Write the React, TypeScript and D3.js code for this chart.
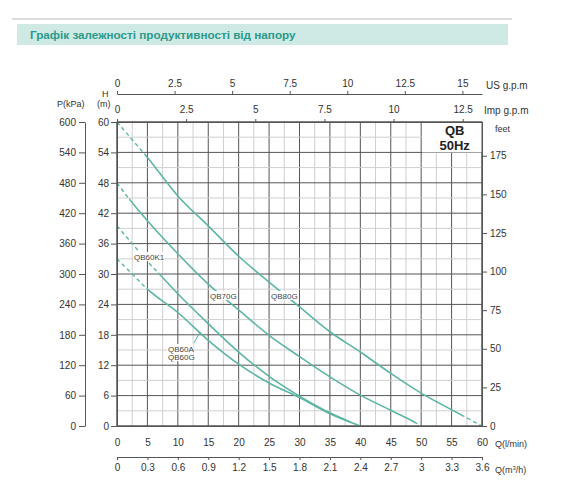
import { useRef, useEffect } from 'react'
import * as d3 from 'd3'

// Head (m) (l/min)
const qb80gFlow = [0, 2.5, 5, 10, 15, 20, 25, 30, 35, 40, 45, 50, 55, 57.5, 60]
const qb80gHead = [60, 56.5, 53, 45.4, 39.5, 33.5, 28.4, 23.5, 18.6, 14.6, 10.4, 6.5, 3.2, 1.6, 0]
const qb70gFlow = [0, 2, 5, 10, 15, 20, 25, 30, 35, 40, 45, 49, 50]
const qb70gHead = [48, 44.8, 40.5, 34, 28, 22.9, 17.9, 13.7, 9.7, 6.1, 3.1, 0.7, 0]
const qb60k1Flow = [0, 2.5, 5, 7.5, 10, 15, 20, 25, 30, 35, 38.5]
const qb60k1Head = [39.5, 36, 32.5, 29.3, 26.1, 20.2, 14.6, 9.8, 5.9, 2.6, 0.7]
const qb60aFlow = [0, 2.5, 5, 10, 15, 20, 25, 30, 35, 40]
const qb60aHead = [33, 30, 27, 22.4, 16.9, 12.2, 8.5, 5.6, 2.4, 0]

// solid part of each curve (flow range), the rest is dashed
const solidRanges: [number, number][] = [[4.6, 57], [2, 49], [6.8, 38.5], [4.9, 40]]

// tick labels
const flowTicks = d3.range(0, 61, 5)
const m3hTicks = [0, 0.3, 0.6, 0.9, 1.2, 1.5, 1.8, 2.1, 2.4, 2.7, 3, 3.3, 3.6]
const headTicks = d3.range(0, 61, 6)
const kpaTicks = d3.range(0, 601, 60)
const feetTicks = [0, 25, 50, 75, 100, 125, 150, 175]
const usTicks = [0, 2.5, 5, 7.5, 10, 12.5, 15]
const impTicks = [0, 2.5, 5, 7.5, 10, 12.5]
const gridFlow = d3.range(0, 60.1, 2.5)
const gridHead = d3.range(0, 60.1, 3)

const FONT = '"Liberation Sans", Arial, sans-serif'
const TEAL = '#5db5a6'

const L = 117, R = 482, T = 122, B = 426
const x = d3.scaleLinear().domain([0, 60]).range([L, R])
const y = d3.scaleLinear().domain([0, 60]).range([B, T])
const yKpa = d3.scaleLinear().domain([0, 600]).range([B, T])
const yFeet = d3.scaleLinear().domain([0, 60 / 0.3048]).range([B, T])
const xUs = d3.scaleLinear().domain([0, 60 / 3.785]).range([L, R])
const xImp = d3.scaleLinear().domain([0, 60 / 4.546]).range([L, R])
const xM3h = d3.scaleLinear().domain([0, 3.6]).range([L, R])

const series = [
  { flow: qb80gFlow, head: qb80gHead },
  { flow: qb70gFlow, head: qb70gHead },
  { flow: qb60k1Flow, head: qb60k1Head },
  { flow: qb60aFlow, head: qb60aHead },
]

const labels = [
  { text: 'QB80G', x: 271, y: 299 },
  { text: 'QB70G', x: 210, y: 299 },
  { text: 'QB60K1', x: 134, y: 260 },
  { text: 'QB60A', x: 168, y: 352 },
  { text: 'QB60G', x: 168, y: 360 },
]

const titles = [
  { text: 'US  g.p.m', x: 486, y: 89, size: 10 },
  { text: 'Imp  g.p.m', x: 484, y: 114, size: 10 },
  { text: 'feet', x: 495, y: 132, size: 9 },
  { text: 'P(kPa)', x: 57, y: 107, size: 9 },
  { text: 'H', x: 102, y: 97, size: 9 },
  { text: '(m)', x: 97, y: 107, size: 9 },
  { text: 'Q(l/min)', x: 495, y: 447, size: 9 },
]

export default function App() {
  const axesRef = useRef<SVGGElement>(null)

  const line = d3.line<[number, number]>()
    .x(d => x(d[0]))
    .y(d => y(d[1]))
    .curve(d3.curveMonotoneX)

  // pointer from QB60A label to its curve
  const pq = 13.6
  const ph = d3.scaleLinear().domain(qb60aFlow).range(qb60aHead)(pq)

  useEffect(() => {
    if (!axesRef.current) return
    const g = d3.select(axesRef.current)
    g.selectAll('*').remove()

    const styleAxis = (a: d3.Selection<SVGGElement, unknown, null, undefined>) => {
      a.selectAll('.domain').attr('stroke', '#555')
      a.selectAll('.tick line').attr('stroke', '#555')
      a.selectAll('text').attr('fill', '#333').attr('font-family', FONT).attr('font-size', '10px')
    }
    const plain = (d: d3.NumberValue) => String(d)

    // H (m)
    g.append('g')
      .attr('transform', `translate(${L},0)`)
      .call(d3.axisLeft(y).tickValues(headTicks).tickSize(6).tickSizeOuter(0).tickPadding(2))
      .call(styleAxis)

    // P (kPa)
    g.append('g')
      .attr('transform', 'translate(85,0)')
      .call(d3.axisLeft(yKpa).tickValues(kpaTicks).tickSize(6).tickSizeOuter(0).tickPadding(3))
      .call(styleAxis)

    // feet
    g.append('g')
      .attr('transform', `translate(${R},0)`)
      .call(d3.axisRight(yFeet).tickValues(feetTicks).tickSize(5).tickSizeOuter(0).tickPadding(3))
      .call(styleAxis)

    // Q l/min (labels only)
    g.append('g')
      .attr('transform', `translate(0,${B})`)
      .call(d3.axisBottom(x).tickValues(flowTicks).tickSize(0).tickPadding(13))
      .call(styleAxis)

    // Q m3/h
    g.append('g')
      .attr('transform', 'translate(0,457)')
      .call(d3.axisBottom(xM3h).tickValues(m3hTicks).tickFormat(plain).tickSize(3).tickSizeOuter(0).tickPadding(4))
      .call(styleAxis)

    // Imp g.p.m on plot top
    g.append('g')
      .attr('transform', `translate(0,${T})`)
      .call(d3.axisTop(xImp).tickValues(impTicks).tickFormat(plain).tickSize(3).tickSizeOuter(0).tickPadding(6))
      .call(styleAxis)

    // US g.p.m
    g.append('g')
      .attr('transform', 'translate(0,94)')
      .call(d3.axisTop(xUs).tickValues(usTicks).tickFormat(plain).tickSize(3).tickSizeOuter(0).tickPadding(4))
      .call(styleAxis)
  }, [])

  return (
    <svg
      width={570}
      height={502}
      style={{ position: 'absolute', left: 0, top: 0, display: 'block' }}
    >
      <rect width={570} height={502} fill="#fff" />

      {/* Header */}
      <rect x={12} y={18} width={500} height={2} fill="#dcdcdc" />
      <rect x={17} y={24} width={491} height={21} fill="#cfe9e5" />
      <text x={30} y={39} fill="#2a9a8a" fontFamily={FONT} fontSize="11.7px" fontWeight="bold">
        Графік залежності продуктивності від напору
      </text>

      {/* Grid */}
      <g>
        {gridFlow.map(q => (
          <line
            key={`v${q}`}
            x1={x(q)} x2={x(q)} y1={T} y2={B}
            stroke={q % 5 === 0 ? '#555' : '#cfcfcf'}
            strokeWidth={1}
          />
        ))}
        {gridHead.map(h => (
          <line
            key={`h${h}`}
            x1={L} x2={R} y1={y(h)} y2={y(h)}
            stroke={h % 6 === 0 ? '#555' : '#cfcfcf'}
            strokeWidth={1}
          />
        ))}
      </g>

      {/* Curves: solid middle, dashed ends */}
      <defs>
        {solidRanges.map(([a, b], i) => (
          <clipPath key={`s${i}`} id={`solid-${i}`}>
            <rect x={x(a)} y={0} width={x(b) - x(a)} height={502} />
          </clipPath>
        ))}
        {solidRanges.map(([a, b], i) => (
          <clipPath key={`d${i}`} id={`dash-${i}`}>
            <rect x={0} y={0} width={x(a)} height={502} />
            <rect x={x(b)} y={0} width={570 - x(b)} height={502} />
          </clipPath>
        ))}
      </defs>
      {series.map((s, i) => {
        const d = line(s.flow.map((q, j) => [q, s.head[j]] as [number, number])) ?? ''
        return (
          <g key={`c${i}`}>
            <path d={d} fill="none" stroke={TEAL} strokeWidth={1.6} clipPath={`url(#solid-${i})`} />
            <path d={d} fill="none" stroke={TEAL} strokeWidth={1.4} strokeDasharray="4,3" clipPath={`url(#dash-${i})`} />
          </g>
        )
      })}

      {/* Curve labels */}
      {labels.map(l => (
        <rect key={`lb${l.text}`} x={l.x - 1} y={l.y - 8} width={l.text.length * 4.8 + 2} height={9} fill="#fff" />
      ))}
      {labels.map(l => (
        <text key={`lt${l.text}`} x={l.x} y={l.y} fill="#444" fontFamily={FONT} fontSize="8px">
          {l.text}
        </text>
      ))}
      <line x1={194} y1={343} x2={x(pq)} y2={y(ph)} stroke={TEAL} strokeWidth={1} />

      {/* QB 50Hz box */}
      <rect x={x(50) + 1} y={T + 1} width={x(60) - x(50) - 1} height={y(54) - T - 1} fill="#fff" />
      <text x={x(55.5)} y={135} textAnchor="middle" fontFamily={FONT} fontSize="13px" fontWeight="bold" fill="#222">QB</text>
      <text x={x(55.5)} y={150} textAnchor="middle" fontFamily={FONT} fontSize="13px" fontWeight="bold" fill="#222">50Hz</text>

      {/* Plot frame */}
      <rect x={L} y={T} width={R - L} height={B - T} fill="none" stroke="#555" />

      <g ref={axesRef} />

      {/* Axis titles */}
      {titles.map(t => (
        <text key={t.text} x={t.x} y={t.y} fill="#333" fontFamily={FONT} fontSize={`${t.size}px`}>
          {t.text}
        </text>
      ))}
      <text x={495} y={473} fill="#333" fontFamily={FONT} fontSize="9px">
        <tspan>Q(m</tspan>
        <tspan dy={-3} fontSize="6px">3</tspan>
        <tspan dy={3}>/h)</tspan>
      </text>
    </svg>
  )
}
